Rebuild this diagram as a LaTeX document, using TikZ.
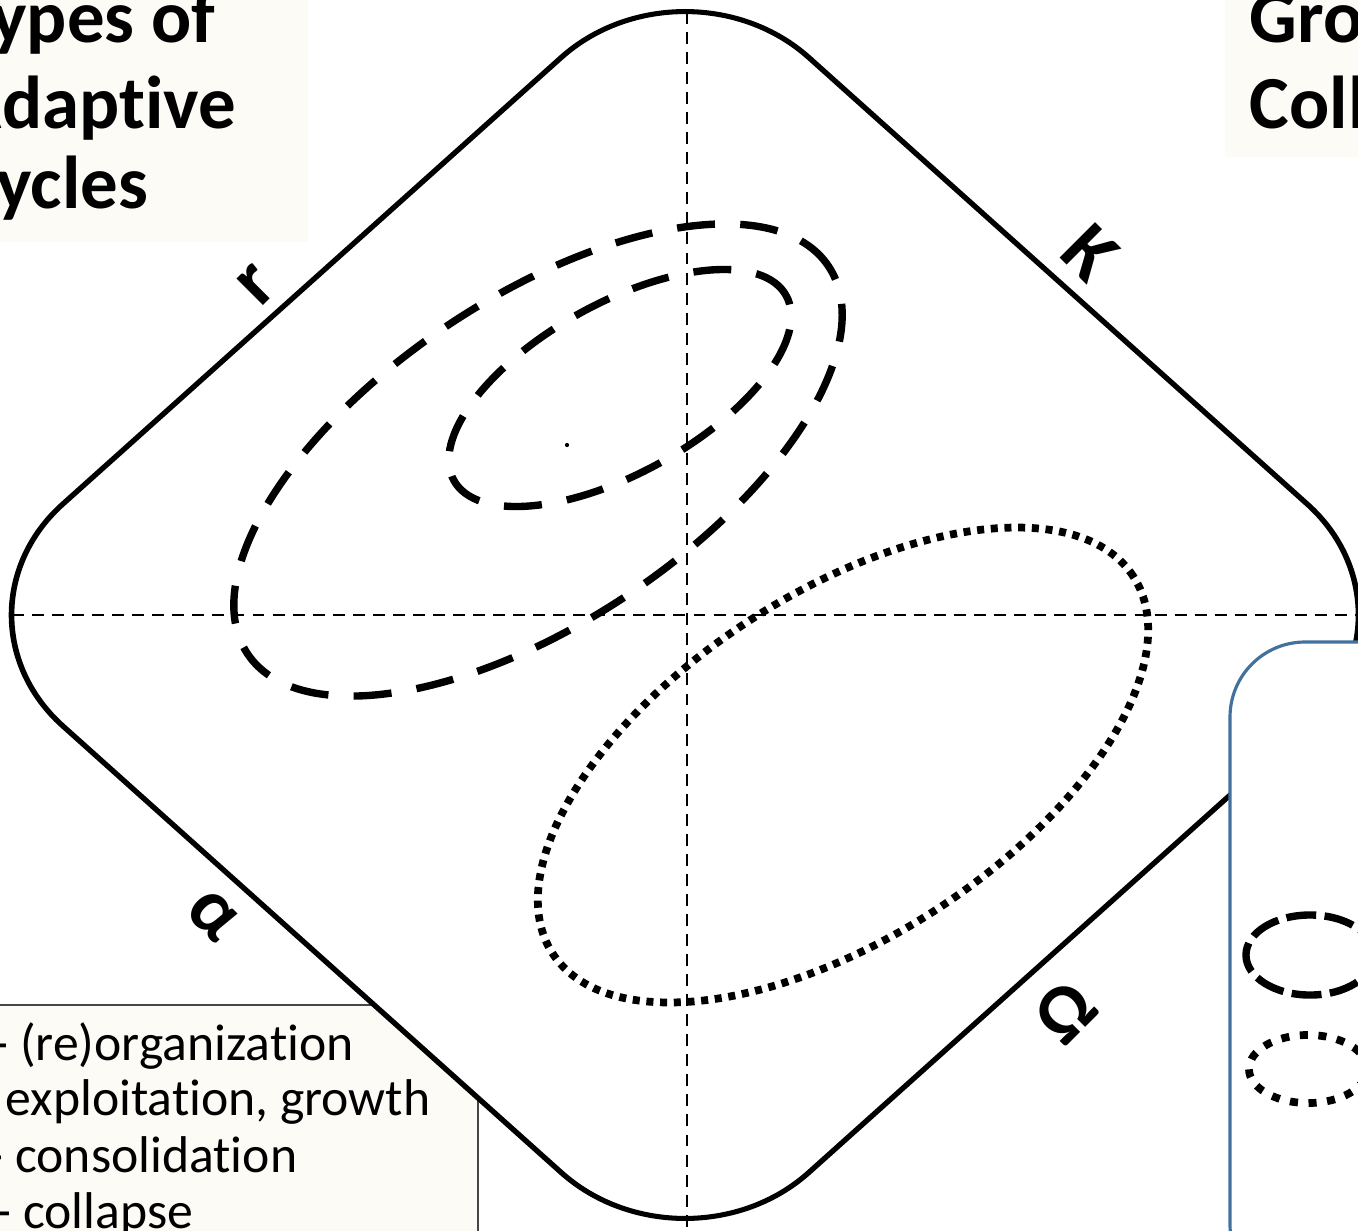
\documentclass[tikz,border=0pt]{standalone}
\usepackage{fontspec}
\setmainfont{Carlito}[Ligatures=NoCommon, RawFeature={-liga;-clig}]
\definecolor{cream}{RGB}{252,251,245}
\definecolor{boxblue}{RGB}{65,113,156}
\definecolor{legendgray}{RGB}{70,70,70}
\begin{document}
\begin{tikzpicture}[x=0.01cm, y=-0.01cm,
  outline/.style={line width=1.6pt},
  axisline/.style={line width=0.75pt, dash pattern=on 3.4pt off 2.3pt},
  bigdash/.style={line width=2.1pt, dash pattern=on 10.8pt off 7.2pt},
  dotline/.style={line width=2.2pt, dash pattern=on 2pt off 1.9pt},
  keydash/.style={line width=2.1pt, dash pattern=on 8.5pt off 2.4pt},
  keydot/.style={line width=2.2pt, dash pattern=on 2.3pt off 3pt},
  titletxt/.style={font=\fontsize{21.3}{25}\selectfont\bfseries, anchor=base west, inner sep=0pt},
  legendtxt/.style={font=\fontsize{14.7}{17}\selectfont, anchor=base west, inner sep=0pt},
  phase/.style={font=\fontsize{22}{26}\selectfont\bfseries, inner sep=0pt}]
\useasboundingbox (0,0) rectangle (1358,1230);
\clip (0,0) rectangle (1358,1230);

% cream background boxes
\fill[cream] (0,0) rectangle (308,242);
\fill[cream] (1225,0) rectangle (1370,157);
\filldraw[fill=cream, draw=legendgray, line width=0.6pt] (-20,1005) rectangle (478,1260);

% rounded diamond
\begin{scope}[transform canvas={shift={(685,615)}, yscale=0.896}]
  \filldraw[outline, fill=white, rounded corners=1.75cm]
    (-373,-373) -- (0,-746) -- (746,0) -- (0,746) -- (-746,0) -- cycle;
\end{scope}

% axes
\coordinate (axL) at (12,615);
\coordinate (axR) at (1358,615);
\coordinate (axT) at (687,12);
\coordinate (axB) at (687,1230);
\draw[axisline] (axL) -- (axR);
\draw[axisline] (axT) -- (axB);

% cycles
\draw[bigdash, rotate around={33.7:(538,460)}] (538,460) ellipse [x radius=3.49cm, y radius=1.62cm];
\draw[bigdash, rotate around={29.1:(620,388)}] (620,388) ellipse [x radius=1.90cm, y radius=0.848cm];
\draw[dotline, rotate around={33:(843,765)}] (843,765) ellipse [x radius=3.46cm, y radius=1.72cm];
\fill (567,445) circle [radius=0.6pt];

% phase labels
\node[phase, rotate=45]  (lr) at (257,285)  {r};
\node[phase, rotate=-45] (lK) at (1090,253) {K};
\node[phase, rotate=-45] (la) at (213,915)  {α};
\node[phase, rotate=45]  (lO) at (1065,1012) {Ω};

% legend text
\node[legendtxt] (t1) at (-8,1060)  {- (re)organization};
\node[legendtxt] (t2) at (5,1115)   {exploitation, growth};
\node[legendtxt] (t3) at (-13,1172) {- consolidation};
\node[legendtxt] (t4) at (-5,1228)  {- collapse};

% titles
\node[titletxt] (h1) at (-44,42)  {Types of};
\node[titletxt] (h2) at (-44,128) {Adaptive};
\node[titletxt] (h3) at (-44,208) {Cycles};
\node[titletxt] (g1) at (1249,42)  {Gro};
\node[titletxt] (g2) at (1249,128) {Coll};

% key box
\filldraw[draw=boxblue, line width=0.9pt, fill=white, rounded corners=0.75cm] (1230,642) rectangle (1460,1300);
\draw[keydash] (1310,955) ellipse [x radius=0.64cm, y radius=0.40cm];
\draw[keydot] (1308,1069) ellipse [x radius=0.59cm, y radius=0.34cm];
\end{tikzpicture}
\end{document}
